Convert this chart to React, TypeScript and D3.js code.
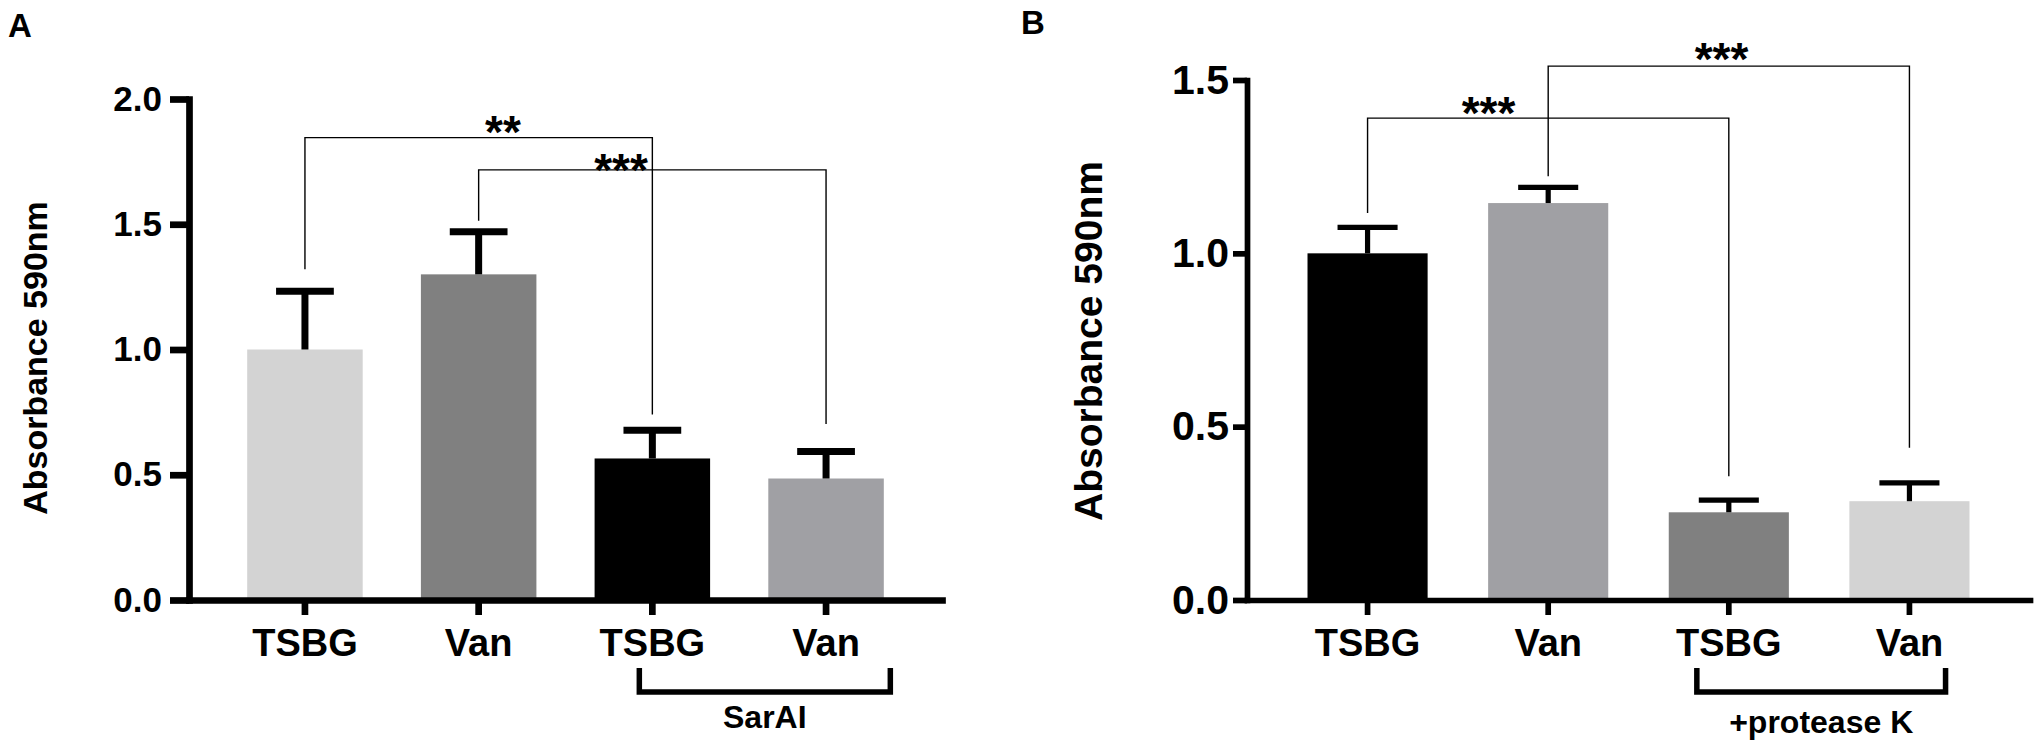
import React, { useEffect, useRef } from 'react';
import * as d3 from 'd3';

// panel A
const categoriesA = ['TSBG', 'Van', 'TSBG', 'Van'];
const meansA = [1.0, 1.3, 0.565, 0.485];
const errorsA = [0.233, 0.17, 0.113, 0.108];
const ticksA = [0, 0.5, 1.0, 1.5, 2.0];
const groupA = 'SarAI';
const sigA = [
  { from: 0, to: 2, label: '**', top: 1.846, fromEnd: 1.32, toEnd: 0.741 },
  { from: 1, to: 3, label: '***', top: 1.717, fromEnd: 1.514, toEnd: 0.703 },
];

// panel B
const categoriesB = ['TSBG', 'Van', 'TSBG', 'Van'];
const meansB = [1.0, 1.145, 0.253, 0.285];
const errorsB = [0.075, 0.045, 0.035, 0.053];
const ticksB = [0, 0.5, 1.0, 1.5];
const groupB = '+protease K';
const sigB = [
  { from: 0, to: 2, label: '***', top: 1.39, fromEnd: 1.116, toEnd: 0.357 },
  { from: 1, to: 3, label: '***', top: 1.54, fromEnd: 1.222, toEnd: 0.439 },
];

const FONT = '"Liberation Sans", Arial, Helvetica, sans-serif';

const layoutA = {
  letter: 'A', letterX: 8, letterY: 37,
  left: 189, right: 942, top: 99, bottom: 600, pad: 0.335,
  fills: ['#d3d3d3', '#808080', '#000000', '#a0a0a4'],
  axisW: 6.7, errW: 7, tickLen: 19, tickPad: 8, tickFont: 35,
  titleX: 47, titleY: 358, titleFont: 34,
  starShift: [0.14, -0.18], starGap: [10, 4],
  grpL: -0.075, grpR: 0.37, grpBase: 728,
};

const layoutB = {
  letter: 'B', letterX: 1021, letterY: 34,
  left: 1247, right: 2030, top: 80, bottom: 600, pad: 0.335,
  fills: ['#000000', '#a0a0a4', '#808080', '#d3d3d3'],
  axisW: 5.7, errW: 5.2, tickLen: 14, tickPad: 4, tickFont: 41,
  titleX: 1102, titleY: 341, titleFont: 39,
  starShift: [-0.33, -0.04], starGap: [9, 11],
  grpL: -0.177, grpR: 0.2, grpBase: 733,
};

function drawPanel(svg: any, d: any, L: any) {
  const idx = d.means.map((_: number, i: number) => i);
  const x = d3.scaleBand<number>().domain(idx).range([L.left, L.right])
    .paddingInner(L.pad).paddingOuter(L.pad);
  const y = d3.scaleLinear().domain([0, d.ticks[d.ticks.length - 1]]).range([L.bottom, L.top]);
  const bw = x.bandwidth();
  const cx = (i: number) => (x(i) as number) + bw / 2;
  const g = svg.append('g');

  // panel letter
  g.append('text').attr('x', L.letterX).attr('y', L.letterY)
    .attr('font-family', FONT).attr('font-weight', 'bold').attr('font-size', 33)
    .text(L.letter);

  // bars
  g.selectAll('.bar').data(d.means).join('rect').attr('class', 'bar')
    .attr('x', (_: number, i: number) => x(i))
    .attr('y', (v: number) => y(v))
    .attr('width', bw)
    .attr('height', (v: number) => y(0) - y(v))
    .attr('fill', (_: number, i: number) => L.fills[i]);

  // error bars (upper only)
  const eb = g.selectAll('.err').data(d.means).join('g').attr('class', 'err')
    .attr('stroke', '#000').attr('stroke-width', L.errW);
  eb.append('line')
    .attr('x1', (_: number, i: number) => cx(i)).attr('x2', (_: number, i: number) => cx(i))
    .attr('y1', (v: number) => y(v))
    .attr('y2', (v: number, i: number) => y(v + d.errors[i]));
  eb.append('line')
    .attr('x1', (_: number, i: number) => cx(i) - bw / 4)
    .attr('x2', (_: number, i: number) => cx(i) + bw / 4)
    .attr('y1', (v: number, i: number) => y(v + d.errors[i]))
    .attr('y2', (v: number, i: number) => y(v + d.errors[i]));

  // y axis
  const yAxis = d3.axisLeft(y).tickValues(d.ticks).tickFormat(d3.format('.1f'))
    .tickSize(L.tickLen).tickSizeOuter(0).tickPadding(L.tickPad);
  const ya = g.append('g').attr('transform', `translate(${L.left},0)`).call(yAxis);
  ya.attr('font-family', FONT).attr('font-size', L.tickFont).attr('font-weight', 'bold');
  ya.select('.domain').attr('stroke-width', L.axisW).attr('stroke-linecap', 'square');
  ya.selectAll('.tick line').attr('stroke-width', L.axisW);
  ya.selectAll('.tick text').attr('fill', '#000');

  // x axis
  const xAxis = d3.axisBottom(x).tickSize(15).tickSizeOuter(0)
    .tickFormat((i: number) => d.categories[i]);
  const xa = g.append('g').attr('transform', `translate(0,${L.bottom})`).call(xAxis);
  xa.attr('font-family', FONT).attr('font-size', 38).attr('font-weight', 'bold');
  xa.select('.domain').attr('stroke-width', L.axisW).attr('stroke-linecap', 'square');
  xa.selectAll('.tick line').attr('stroke-width', L.axisW);
  xa.selectAll('.tick text').attr('fill', '#000').attr('y', 56).attr('dy', 0);

  // y title
  g.append('text')
    .attr('transform', `translate(${L.titleX},${L.titleY}) rotate(-90)`)
    .attr('text-anchor', 'middle')
    .attr('font-family', FONT).attr('font-weight', 'bold').attr('font-size', L.titleFont)
    .text('Absorbance 590nm');

  // significance brackets
  d.sig.forEach((s: any, k: number) => {
    g.append('path')
      .attr('d', `M${cx(s.from)},${y(s.fromEnd)}V${y(s.top)}H${cx(s.to)}V${y(s.toEnd)}`)
      .attr('fill', 'none').attr('stroke', '#000').attr('stroke-width', 1.4);
    const mid = (cx(s.from) + cx(s.to)) / 2 + L.starShift[k] * x.step();
    g.append('text')
      .attr('x', mid).attr('y', y(s.top) - L.starGap[k] + 20)
      .attr('text-anchor', 'middle')
      .attr('font-family', FONT).attr('font-weight', 'bold').attr('font-size', 46)
      .text(s.label);
  });

  // group bracket under the last two categories
  const gl = cx(2) + L.grpL * x.step();
  const gr = cx(3) + L.grpR * x.step();
  g.append('path')
    .attr('d', `M${gl},668V692H${gr}V668`)
    .attr('fill', 'none').attr('stroke', '#000').attr('stroke-width', 5.5);
  g.append('text')
    .attr('x', (gl + gr) / 2).attr('y', L.grpBase)
    .attr('text-anchor', 'middle')
    .attr('font-family', FONT).attr('font-weight', 'bold').attr('font-size', 32)
    .text(d.group);
}

const App = () => {
  const svgRef = useRef<SVGSVGElement>(null);

  useEffect(() => {
    const svg = d3.select(svgRef.current);
    svg.selectAll('*').remove();
    drawPanel(svg, { categories: categoriesA, means: meansA, errors: errorsA, ticks: ticksA, sig: sigA, group: groupA }, layoutA);
    drawPanel(svg, { categories: categoriesB, means: meansB, errors: errorsB, ticks: ticksB, sig: sigB, group: groupB }, layoutB);
  }, []);

  return (
    <svg
      ref={svgRef}
      width={2034}
      height={745}
      style={{ position: 'absolute', left: 0, top: 0, background: '#fff' }}
    />
  );
};

export default App;
